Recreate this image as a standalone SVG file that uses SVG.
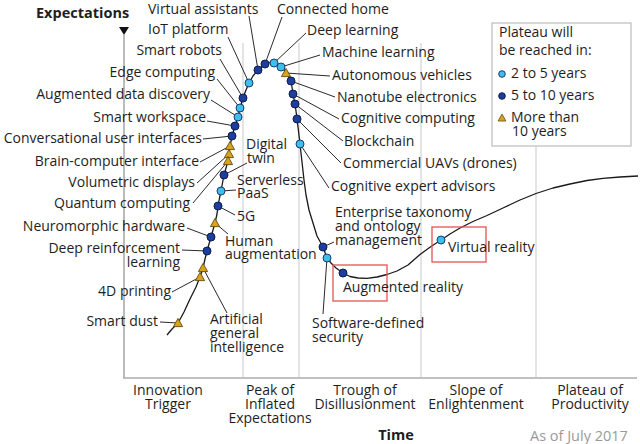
<svg xmlns="http://www.w3.org/2000/svg" xmlns:xlink="http://www.w3.org/1999/xlink" width="640" height="444" viewBox="0 0 640 444">
<style>
text{font-family:"Open Sans","Noto Sans","Liberation Sans",sans-serif;font-size:14px;fill:#1e1e1e}
.e{text-anchor:end}
.m{text-anchor:middle}
.b{font-weight:bold;font-size:14.5px}
.gray{fill:#9a9a9a;font-size:14.5px}
.grid{stroke:#d2d2d2;stroke-width:1.2;fill:none}
.axis{stroke:#ababab;stroke-width:1.6;fill:none}
.lead{stroke:#2a2a2a;stroke-width:1;fill:none}
.curve{stroke:#1a1a1a;stroke-width:1.3;fill:none;stroke-linejoin:round}
.lb{fill:#3dbfea;stroke:#1a3c78;stroke-width:1}
.db{fill:#1d3f9b;stroke:#0b1c50;stroke-width:1}
.tr{fill:#d8a31e;stroke:#674b08;stroke-width:0.9}
.box{fill:none;stroke:#e35454;stroke-width:1.3}
.leg{fill:#fff;stroke:#bdbdbd;stroke-width:1.2}
</style>
<defs>
<path id="tri" d="M0,-4.6 L4.6,3.6 L-4.6,3.6 Z"/>
</defs>
<rect width="640" height="444" fill="#fff"/>
<g id="axes">
<line class="grid" x1="243" y1="43" x2="243" y2="377"/>
<line class="grid" x1="299" y1="43" x2="299" y2="377"/>
<line class="grid" x1="421" y1="43" x2="421" y2="377"/>
<line class="grid" x1="536" y1="146" x2="536" y2="377"/>
<line class="axis" x1="124" y1="35" x2="124" y2="378"/>
<line class="axis" x1="123" y1="378" x2="637" y2="378"/>
<polygon points="119,27 129,27 124,35" fill="#111"/>
<text class="b" x="36" y="18">Expectations</text>
<text class="b m" x="396" y="440">Time</text>
<text class="gray" x="530" y="441">As of July 2017</text>
<text class="m"><tspan x="168" y="395">Innovation</tspan><tspan x="168" y="409">Trigger</tspan></text>
<text class="m"><tspan x="270" y="395">Peak of</tspan><tspan x="270" y="409">Inflated</tspan><tspan x="270" y="423">Expectations</tspan></text>
<text class="m"><tspan x="365" y="395">Trough of</tspan><tspan x="365" y="409">Disillusionment</tspan></text>
<text class="m"><tspan x="476" y="395">Slope of</tspan><tspan x="476" y="409">Enlightenment</tspan></text>
<text class="m"><tspan x="590" y="395">Plateau of</tspan><tspan x="590" y="409">Productivity</tspan></text>
</g>
<g id="legend">
<rect class="leg" x="492" y="23" width="139" height="123"/>
<text><tspan x="499" y="37">Plateau will</tspan><tspan x="499" y="55">be reached in:</tspan></text>
<circle class="lb" cx="502" cy="74" r="3.3"/>
<text x="511" y="78">2 to 5 years</text>
<circle class="db" cx="502" cy="96" r="3.3"/>
<text x="511" y="100">5 to 10 years</text>
<use xlink:href="#tri" class="tr" transform="translate(502,118) scale(0.85)"/>
<text><tspan x="511" y="122">More than</tspan><tspan x="512" y="136">10 years</tspan></text>
</g>
<g id="hype-curve">
<polyline class="curve" points="167,335 172,329 178,323 184,312 190,299 196,287 200,277 203,268 205,259 207,251 209,244 211,237 213,230 215,223 217,214 218,206 219.5,198 221,191 222.5,183 224,175 226,168 228,161 229,154 230,146 231,141 232,136 233.5,131 235,126 236.5,121.5 238,117 239,112.5 240,108 241.5,103 243,98 246,90 249,83 253,76 258,70 261.5,67 265,64 269.5,62.5 274,63 278,64.5 281,67 284,70 286,73 289,77.5 291,81 292,87 293,94 294,99 295,104 296,111 297,119 298.5,131 300,144 302,162 304,180 306,195 309,210 313,223 317,236 323,247 327,258 331,263 336,268 343,273 350,276.5 358,278 367,278.3 377,277 387,274.5 397,271 408,265 420,254.5 431,246.5 441,240 450,234 460,228 473,221.5 487,215.5 503,208 520,200 536,193.5 553,188 570,184 587,180.5 603,178.3 620,177 638,176"/>
</g>
<g id="connectors">
<line class="lead" x1="249" y1="16" x2="258" y2="70"/>
<line class="lead" x1="228" y1="37" x2="249" y2="83"/>
<line class="lead" x1="220" y1="59" x2="243" y2="98"/>
<line class="lead" x1="217" y1="79" x2="240" y2="108"/>
<line class="lead" x1="211" y1="100" x2="238" y2="117"/>
<line class="lead" x1="207" y1="121" x2="235" y2="126"/>
<line class="lead" x1="203" y1="139" x2="232" y2="136"/>
<line class="lead" x1="200" y1="162" x2="230" y2="146"/>
<line class="lead" x1="197" y1="183" x2="229" y2="154"/>
<line class="lead" x1="193" y1="203" x2="228" y2="161"/>
<line class="lead" x1="187" y1="228" x2="211" y2="237"/>
<line class="lead" x1="182" y1="250" x2="207" y2="251"/>
<line class="lead" x1="172" y1="292" x2="200" y2="277"/>
<line class="lead" x1="160" y1="322" x2="178" y2="323"/>
<line class="lead" x1="227" y1="313" x2="203" y2="268"/>
<line class="lead" x1="228" y1="234" x2="215" y2="223"/>
<line class="lead" x1="235" y1="215" x2="218" y2="206"/>
<line class="lead" x1="236" y1="190" x2="221" y2="191"/>
<line class="lead" x1="247" y1="163" x2="224" y2="175"/>
<line class="lead" x1="282" y1="17" x2="265" y2="64"/>
<line class="lead" x1="306" y1="33" x2="274" y2="63"/>
<line class="lead" x1="320" y1="55" x2="281" y2="67"/>
<line class="lead" x1="330" y1="76" x2="286" y2="73"/>
<line class="lead" x1="335" y1="97" x2="291" y2="81"/>
<line class="lead" x1="339" y1="119" x2="293" y2="94"/>
<line class="lead" x1="343" y1="141" x2="295" y2="104"/>
<line class="lead" x1="341" y1="163" x2="297" y2="119"/>
<line class="lead" x1="329" y1="188" x2="300" y2="144"/>
<line class="lead" x1="334" y1="242" x2="323" y2="247"/>
<line class="lead" x1="323" y1="314" x2="327" y2="258"/>
</g>
<g id="n-virtual-assistants"><circle class="db" cx="258" cy="70" r="4"/><text x="148" y="14">Virtual assistants</text></g>
<g id="n-iot-platform"><circle class="lb" cx="249" cy="83" r="4"/><text x="148" y="34">IoT platform</text></g>
<g id="n-smart-robots"><circle class="db" cx="243" cy="98" r="4"/><text class="e" x="222" y="55">Smart robots</text></g>
<g id="n-edge-computing"><circle class="lb" cx="240" cy="108" r="4"/><text class="e" x="215" y="77">Edge computing</text></g>
<g id="n-augmented-data-discovery"><circle class="lb" cx="238" cy="117" r="4"/><text class="e" x="210" y="99">Augmented data discovery</text></g>
<g id="n-smart-workspace"><circle class="db" cx="235" cy="126" r="4"/><text class="e" x="206" y="122">Smart workspace</text></g>
<g id="n-conversational-ui"><circle class="db" cx="232" cy="136" r="4"/><text class="e" x="202" y="143">Conversational user interfaces</text></g>
<g id="n-brain-computer-interface"><use xlink:href="#tri" class="tr" x="230" y="146"/><text class="e" x="199" y="166">Brain-computer interface</text></g>
<g id="n-volumetric-displays"><use xlink:href="#tri" class="tr" x="229" y="154"/><text class="e" x="195" y="187">Volumetric displays</text></g>
<g id="n-quantum-computing"><use xlink:href="#tri" class="tr" x="228" y="161"/><text class="e" x="190" y="208">Quantum computing</text></g>
<g id="n-neuromorphic-hardware"><circle class="db" cx="211" cy="237" r="4"/><text class="e" x="185" y="231">Neuromorphic hardware</text></g>
<g id="n-deep-reinforcement-learning"><circle class="db" cx="207" cy="251" r="4"/><text class="e"><tspan x="180" y="253">Deep reinforcement</tspan><tspan x="180" y="267">learning</tspan></text></g>
<g id="n-artificial-general-intelligence"><use xlink:href="#tri" class="tr" x="203" y="268"/><text><tspan x="210" y="324">Artificial</tspan><tspan x="210" y="338">general</tspan><tspan x="210" y="352">intelligence</tspan></text></g>
<g id="n-4d-printing"><use xlink:href="#tri" class="tr" x="200" y="277"/><text class="e" x="171" y="296">4D printing</text></g>
<g id="n-smart-dust"><use xlink:href="#tri" class="tr" x="178" y="323"/><text class="e" x="158" y="326">Smart dust</text></g>
<g id="n-human-augmentation"><use xlink:href="#tri" class="tr" x="215" y="223"/><text><tspan x="225" y="246">Human</tspan><tspan x="225" y="259">augmentation</tspan></text></g>
<g id="n-5g"><circle class="db" cx="218" cy="206" r="4"/><text x="237" y="221">5G</text></g>
<g id="n-serverless-paas"><circle class="lb" cx="221" cy="191" r="4"/><text><tspan x="237" y="185">Serverless</tspan><tspan x="237" y="198">PaaS</tspan></text></g>
<g id="n-digital-twin"><circle class="db" cx="224" cy="175" r="4"/><text><tspan x="246" y="149">Digital</tspan><tspan x="247" y="163">twin</tspan></text></g>
<g id="n-connected-home"><circle class="db" cx="265" cy="64" r="4"/><text x="277" y="14">Connected home</text></g>
<g id="n-deep-learning"><circle class="lb" cx="274" cy="63" r="4"/><text x="307" y="35">Deep learning</text></g>
<g id="n-machine-learning"><circle class="lb" cx="281" cy="67" r="4"/><text x="322" y="57">Machine learning</text></g>
<g id="n-autonomous-vehicles"><use xlink:href="#tri" class="tr" x="286" y="73"/><text x="332" y="80">Autonomous vehicles</text></g>
<g id="n-nanotube-electronics"><circle class="db" cx="291" cy="81" r="4"/><text x="337" y="102">Nanotube electronics</text></g>
<g id="n-cognitive-computing"><circle class="db" cx="293" cy="94" r="4"/><text x="341" y="123">Cognitive computing</text></g>
<g id="n-blockchain"><circle class="db" cx="295" cy="104" r="4"/><text x="344" y="146">Blockchain</text></g>
<g id="n-commercial-uavs"><circle class="db" cx="297" cy="119" r="4"/><text x="343" y="168">Commercial UAVs (drones)</text></g>
<g id="n-cognitive-expert-advisors"><circle class="lb" cx="300" cy="144" r="4"/><text x="331" y="191">Cognitive expert advisors</text></g>
<g id="n-enterprise-taxonomy"><circle class="db" cx="323" cy="247" r="4"/><text><tspan x="335" y="217">Enterprise taxonomy</tspan><tspan x="335" y="231">and ontology</tspan><tspan x="335" y="245">management</tspan></text></g>
<g id="n-software-defined-security"><circle class="lb" cx="327" cy="258" r="4"/><text><tspan x="312" y="328">Software-defined</tspan><tspan x="312" y="342">security</tspan></text></g>
<g id="n-augmented-reality"><rect class="box" x="333" y="265" width="54" height="36"/><circle class="db" cx="343" cy="273" r="4"/><text x="343" y="292">Augmented reality</text></g>
<g id="n-virtual-reality"><rect class="box" x="432" y="227" width="54" height="35"/><circle class="lb" cx="441" cy="240" r="4"/><text x="448" y="252">Virtual reality</text></g>
</svg>
